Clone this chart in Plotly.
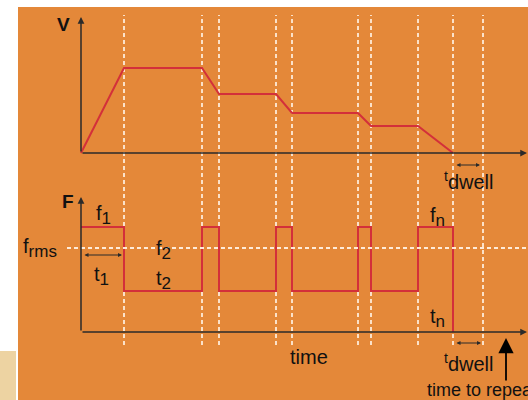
import plotly.graph_objects as go

# time axis in px-scaled units measured from the origin
t_marks = [43, 121, 138, 195, 211, 277, 290, 337, 372, 402]

# voltage profile (top panel)
v_t = [0, 43, 121, 138, 195, 211, 277, 290, 337, 372]
v_val = [0, 85, 85, 59, 59, 40, 40, 27, 27, 0]

# force profile (bottom panel), step shape
f_t = [0, 43, 121, 138, 195, 211, 277, 290, 337, 372]
f_val = [105, 41, 105, 41, 105, 41, 105, 41, 105, 0]
f_rms = 84

ORANGE = "#E48839"
RED = "#D3303A"
DASH = "rgba(255,240,225,0.95)"
AX = "#2a2a2a"
FONT = "Liberation Sans, Arial, sans-serif"

fig = go.Figure()

fig.add_trace(go.Scatter(x=v_t, y=v_val, mode="lines",
                         line=dict(color=RED, width=2), yaxis="y"))
fig.add_trace(go.Scatter(x=f_t, y=f_val, mode="lines", line_shape="hv",
                         line=dict(color=RED, width=2), yaxis="y2"))
# f_rms reference line
fig.add_trace(go.Scatter(x=[-14, 447], y=[f_rms, f_rms], mode="lines",
                         line=dict(color=DASH, width=1.8, dash="4px,3px"), yaxis="y2"))

shapes = [
    dict(type="rect", xref="paper", yref="paper", x0=18 / 528, x1=1, y0=0, y1=393 / 400,
         fillcolor=ORANGE, line_width=0, layer="below"),
    dict(type="rect", xref="paper", yref="paper", x0=0, x1=16 / 528, y0=0, y1=49 / 400,
         fillcolor="#EDD3A2", line_width=0, layer="below"),
]
for t in t_marks:
    shapes.append(dict(type="line", xref="x", yref="paper", x0=t, x1=t,
                       y0=55 / 400, y1=385 / 400, layer="below",
                       line=dict(color=DASH, width=1.8, dash="4px,3px")))


def arrow(x, y, ax, ay, yref, both=False, size=0.9, width=1.5, color=AX, head=2):
    d = dict(x=x, y=y, ax=ax, ay=ay, xref="x", yref=yref, axref="x", ayref=yref,
             text="", showarrow=True, arrowhead=head, arrowsize=size,
             arrowwidth=width, arrowcolor=color)
    if both:
        d.update(arrowside="end+start", startarrowhead=head, startarrowsize=size)
    return d


def label(txt, x, y, yref, size=20, anchor="center"):
    return dict(x=x, y=y, xref="x", yref=yref, text=txt, showarrow=False,
                xanchor=anchor, yanchor="middle",
                font=dict(family=FONT, size=size, color="#111111"))


def sub(base, s):
    return f"{base}<sub><span style='font-size:17px'>{s}</span></sub>"


ann = [
    # axes
    arrow(0, 136, 0, 0, "y"),
    arrow(446, 0, 0, 0, "y"),
    arrow(0, 135, 0, 0, "y2"),
    arrow(446, 0, 0, 0, "y2"),
    # dimension arrows
    arrow(399, -12, 374, -12, "y", both=True, size=0.8, width=1),
    arrow(400, -11, 374, -11, "y2", both=True, size=0.8, width=1),
    arrow(41, 77, 2, 77, "y2", both=True, size=0.8, width=1),
    arrow(425, -6, 425, -50, "y2", size=1.7, width=1.8, color="#000000", head=2),
    # labels
    label("<b>V</b>", -18, 129, "y", size=19),
    label("<b>F</b>", -13, 131, "y2", size=19),
    label(sub("f", "1"), 22, 117, "y2"),
    label(sub("f", "rms"), -41, 84, "y2"),
    label(sub("f", "2"), 82, 82, "y2"),
    label(sub("t", "1"), 20, 56, "y2"),
    label(sub("t", "2"), 82, 52, "y2"),
    label(sub("f", "n"), 356, 115, "y2"),
    label(sub("t", "n"), 356, 14, "y2"),
    label("<sup>t</sup>dwell", 387, -27, "y"),
    label("<sup>t</sup>dwell", 387, -30, "y2"),
    label("time", 228, -25, "y2"),
    label("time to repeat", 344, -58, "y2", size=18, anchor="left"),
]

axis_off = dict(showgrid=False, zeroline=False, showticklabels=False,
                showline=False, ticks="", fixedrange=True)

fig.update_layout(
    width=528, height=400,
    margin=dict(l=0, r=0, t=0, b=0),
    paper_bgcolor="white", plot_bgcolor="rgba(0,0,0,0)",
    showlegend=False,
    xaxis=dict(range=[-81, 447], domain=[0, 1], **axis_off),
    yaxis=dict(range=[-247, 153], domain=[0, 1], **axis_off),
    yaxis2=dict(range=[-68, 332], overlaying="y", **axis_off),
    shapes=shapes,
    annotations=ann,
    font=dict(family=FONT),
)

fig.write_html("out.html", config={"displayModeBar": False},
               post_script="document.body.style.margin='0px';")
